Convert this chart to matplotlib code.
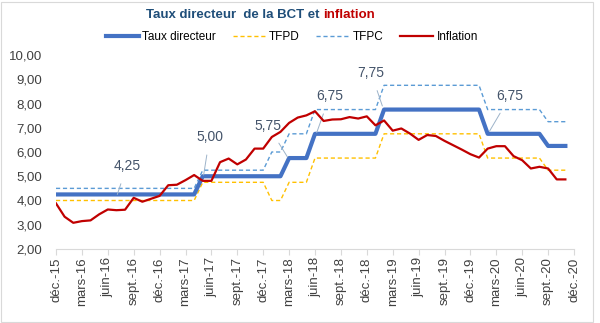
import matplotlib
matplotlib.use("Agg")
import matplotlib.pyplot as plt
from matplotlib.patches import Rectangle

plt.rcParams["font.family"] = ["Liberation Sans", "DejaVu Sans"]

# monthly series, déc.-15 .. nov.-20
taux_directeur = [4.25] * 17 + [5.00] * 10 + [5.75] * 3 + [6.75] * 8 + [7.75] * 12 + [6.75] * 7 + [6.25] * 3
tfpd = [4.00] * 17 + [4.75] * 8 + [4.00] * 2 + [4.75] * 3 + [5.75] * 8 + [6.75] * 12 + [5.75] * 7 + [5.25] * 3
tfpc = [4.50] * 17 + [5.25] * 8 + [6.00] * 2 + [6.75] * 3 + [7.75] * 8 + [8.75] * 12 + [7.75] * 7 + [7.25] * 3
inflation = [3.88, 3.33, 3.08, 3.15, 3.18, 3.43, 3.63, 3.60, 3.62, 4.11,
             3.95, 4.07, 4.19, 4.63, 4.65, 4.84, 5.05, 4.81, 4.81, 5.58,
             5.73, 5.49, 5.69, 6.14, 6.14, 6.62, 6.83, 7.20, 7.42, 7.51,
             7.68, 7.28, 7.34, 7.35, 7.44, 7.38, 7.47, 7.10, 7.30, 6.88,
             6.97, 6.76, 6.50, 6.70, 6.66, 6.46, 6.28, 6.10, 5.91, 5.77,
             6.14, 6.24, 6.24, 5.83, 5.66, 5.32, 5.39, 5.32, 4.87, 4.87]
mois = list(range(len(inflation)))

tick_labels = ["déc.-15", "mars-16", "juin-16", "sept.-16", "déc.-16", "mars-17",
               "juin-17", "sept.-17", "déc.-17", "mars-18", "juin-18", "sept.-18",
               "déc.-18", "mars-19", "juin-19", "sept.-19", "déc.-19", "mars-20",
               "juin-20", "sept.-20", "déc.-20"]

# rate labels: (text, month, value pointed at, text month, text value)
etiquettes = [("4,25", 7.1, 4.25, 8.2, 5.42),
              ("5,00", 17.1, 5.05, 17.8, 6.62),
              ("5,75", 26.8, 5.80, 24.6, 7.06),
              ("6,75", 30.2, 6.80, 31.7, 8.30),
              ("7,75", 37.8, 7.90, 36.5, 9.26),
              ("6,75", 50.2, 6.85, 52.6, 8.30)]

fig = plt.figure(figsize=(6.0, 3.23), dpi=100)
ax = fig.add_axes([56 / 600, 1 - 249 / 323, 518 / 600, 194 / 323])

ax.plot(mois, taux_directeur, color="#4472C4", lw=3.0, label="Taux directeur", zorder=3)
ax.plot(mois, tfpd, color="#FFC000", lw=1.0, ls=(0, (3, 2)), label="TFPD", zorder=2)
ax.plot(mois, tfpc, color="#5B9BD5", lw=1.0, ls=(0, (3, 2)), label="TFPC", zorder=2)
ax.plot(mois, inflation, color="#C00000", lw=1.6, label="Inflation", zorder=4)

for txt, xm, ym, xt, yt in etiquettes:
    ax.annotate(txt, xy=(xm, ym), xytext=(xt, yt), ha="center", va="center",
                fontsize=10, color="#44546A",
                arrowprops=dict(arrowstyle="-", color="#9DB3C9", lw=0.7,
                                shrinkA=6, shrinkB=0))

ax.set_xlim(0, 60)
ax.set_ylim(2, 10)
ax.set_xticks(range(0, 61, 3))
ax.set_xticklabels(tick_labels, rotation=90, fontsize=9.5, color="#404040")
ax.set_yticks(range(2, 11))
ax.set_yticklabels(["%d,00" % v for v in range(2, 11)], fontsize=9.5, color="#404040")
ax.tick_params(axis="y", length=0, pad=10)
ax.tick_params(axis="x", length=4, color="#D9D9D9", pad=2)
for s in ["left", "right", "top"]:
    ax.spines[s].set_visible(False)
ax.spines["bottom"].set_color("#D9D9D9")
ax.patch.set_visible(False)

ax.legend(loc="center", bbox_to_anchor=(292 / 600, 1 - 37 / 323),
          bbox_transform=fig.transFigure, ncol=4, frameon=False,
          fontsize=8.5, handlelength=2.8, handletextpad=0.3, columnspacing=1.4)

# two-coloured title
t1 = fig.text(146 / 600, 1 - 15 / 323, "Taux directeur  de la BCT et ", fontsize=9.5,
              fontweight="bold", color="#1F4E79", va="center", ha="left")
r = fig.canvas.get_renderer()
bb = t1.get_window_extent(renderer=r)
fig.text(bb.x1 / fig.bbox.width, 1 - 15 / 323, "inflation", fontsize=9.5,
         fontweight="bold", color="#C00000", va="center", ha="left")

fig.patches.append(Rectangle((1 / 600, 1 / 323), 592 / 600, 320 / 323,
                             transform=fig.transFigure, fill=False,
                             edgecolor="#D9D9D9", lw=0.8))

fig.savefig("out.png", dpi=100)
